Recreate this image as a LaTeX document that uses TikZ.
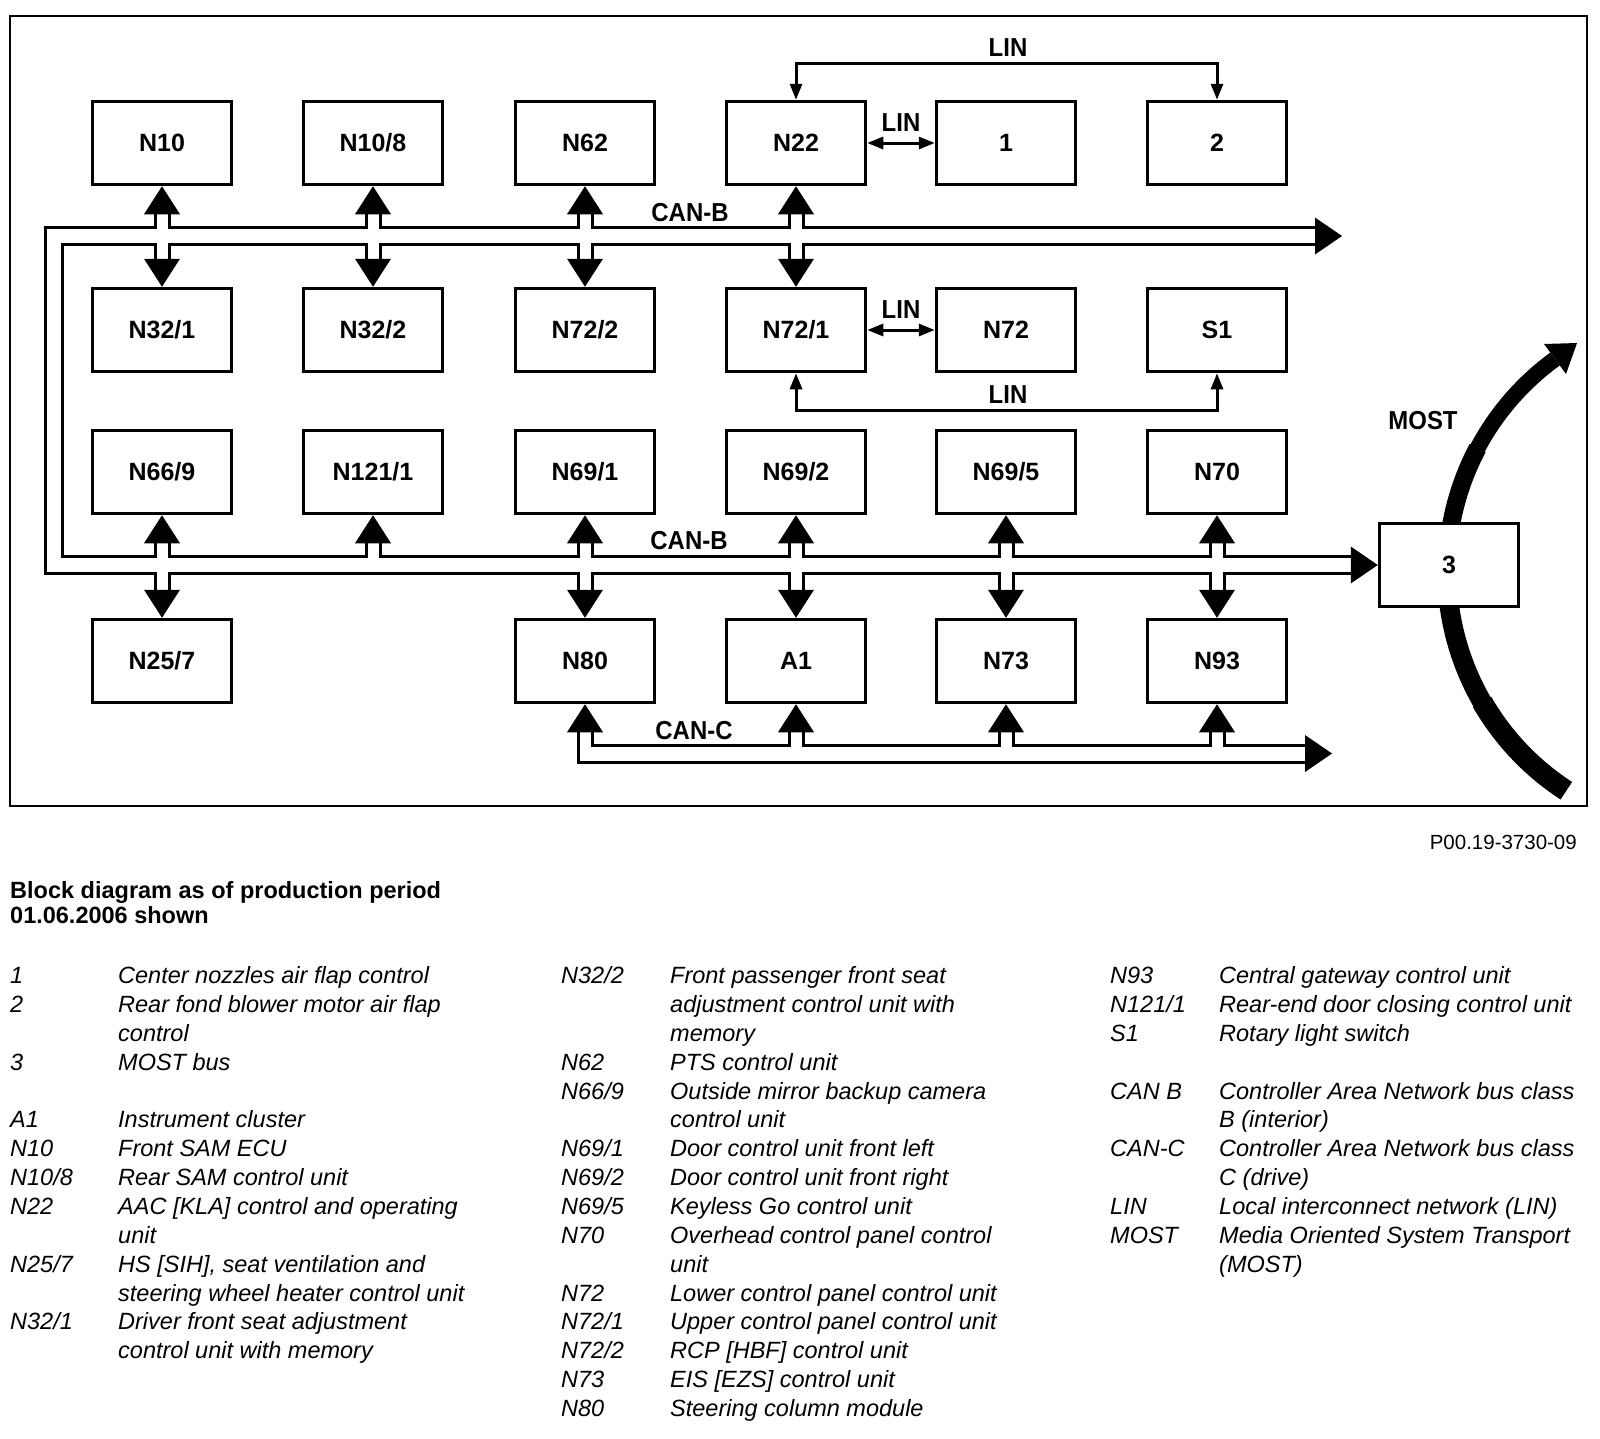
\documentclass[tikz,border=0pt]{standalone}
\usepackage{fontspec}
\setmainfont{Liberation Sans}
\newfontfamily\diafont[FakeStretch=0.92]{Liberation Sans}
\usetikzlibrary{arrows.meta,calc}
\begin{document}
\begin{tikzpicture}[x=1pt,y=-1pt,
  box/.style={draw,line width=3.5pt,fill=white,minimum width=139pt,minimum height=83pt,inner sep=0pt,font=\bfseries\fontsize{25}{29}\selectfont},
  lbl/.style={inner sep=0pt,font=\diafont\bfseries\fontsize{26}{30}\selectfont},
  lin/.style={line width=3pt,{Triangle[length=16pt,width=12pt]}-{Triangle[length=16pt,width=12pt]}},
  busB/.style={line width=20pt},
  busW/.style={line width=14pt,white},
  stemB/.style={line width=17pt},
  stemW/.style={line width=11pt,white},
  uptip/.pic={\fill (-18,28) -- (18,28) -- (0,0) -- cycle;},
  dntip/.pic={\fill (-18,-28) -- (18,-28) -- (0,0) -- cycle;},
  rttip/.pic={\fill (-27,-18.5) -- (-27,18.5) -- (0,0) -- cycle;},
  leg/.style={anchor=north west,inner sep=0pt,font=\itshape\fontsize{23.5}{28.85}\selectfont},
]
\useasboundingbox (0,0) rectangle (1600,1438);

% MOST arc (slightly tapered towards the arrow head)
\draw[line width=21pt] (1709,571) ++(123:262) arc[start angle=123,end angle=150,radius=262];
\draw[line width=19.5pt] (1709,571) ++(149:262) arc[start angle=149,end angle=180,radius=262];
\draw[line width=18pt] (1709,571) ++(179:262) arc[start angle=179,end angle=208,radius=262];
\draw[line width=16pt] (1709,571) ++(207:262) arc[start angle=207,end angle=234,radius=262];
\fill (1544,344) -- (1577,343) -- (1566,374) -- cycle;

\draw[line width=2pt] (10,16) rectangle (1587,806);

% boxes
\node[box] (n10)  at (162,143) {N10};
\node[box] (n108) at (373,143) {N10/8};
\node[box] (n62)  at (585,143) {N62};
\node[box] (n22)  at (796,143) {N22};
\node[box] (b1)   at (1006,143) {1};
\node[box] (b2)   at (1217,143) {2};
\node[box] (n321) at (162,330) {N32/1};
\node[box] (n322) at (373,330) {N32/2};
\node[box] (n722) at (585,330) {N72/2};
\node[box] (n721) at (796,330) {N72/1};
\node[box] (n72)  at (1006,330) {N72};
\node[box] (s1)   at (1217,330) {S1};
\node[box] (n669) at (162,472) {N66/9};
\node[box] (n1211) at (373,472) {N121/1};
\node[box] (n691) at (585,472) {N69/1};
\node[box] (n692) at (796,472) {N69/2};
\node[box] (n695) at (1006,472) {N69/5};
\node[box] (n70)  at (1217,472) {N70};
\node[box] (n257) at (162,661) {N25/7};
\node[box] (n80)  at (585,661) {N80};
\node[box] (a1)   at (796,661) {A1};
\node[box] (n73)  at (1006,661) {N73};
\node[box] (n93)  at (1217,661) {N93};
\node[box] (box3) at (1449,565) {3};

% helper coordinates
\coordinate (yUB) at (0,236);
\coordinate (yLB) at (0,565);
\coordinate (yCC) at (0,753.5);
\coordinate (yLt) at (0,63);
\coordinate (yLb) at (0,410);
\coordinate (xL) at (53.5,0);
\coordinate (endUB) at (1316,236);
\coordinate (endCC) at (1306,753.5);
\coordinate (endLB) at ($(box3.west)+(-27,0)$);

% black layer
\draw[busB] (endUB) -- (xL |- yUB) -- (xL |- yLB) -- (endLB);
\draw[busB] ($(n80.south |- yCC)+(-8.5,0)$) -- (endCC);
\foreach \a/\b in {n10/n321,n108/n322,n62/n722,n22/n721,n669/n257,n691/n80,n692/a1,n695/n73,n70/n93}
  \draw[stemB] ($(\a.south)+(0,28)$) -- ($(\b.north)+(0,-28)$);
\draw[stemB] ($(n1211.south)+(0,28)$) -- (n1211.south |- yLB);
\foreach \a in {a1,n73,n93}
  \draw[stemB] ($(\a.south)+(0,28)$) -- (\a.south |- yCC);
\draw[stemB] ($(n80.south)+(0,28)$) -- ($(n80.south |- yCC)+(0,10)$);

% white layer
\draw[busW] (endUB) -- (xL |- yUB) -- (xL |- yLB) -- (endLB);
\draw[busW] ($(n80.south |- yCC)+(-5.5,0)$) -- (endCC);
\foreach \a/\b in {n10/n321,n108/n322,n62/n722,n22/n721,n669/n257,n691/n80,n692/a1,n695/n73,n70/n93}
  \draw[stemW] ($(\a.south)+(0,28)$) -- ($(\b.north)+(0,-28)$);
\draw[stemW] ($(n1211.south)+(0,28)$) -- (n1211.south |- yLB);
\foreach \a in {a1,n73,n93}
  \draw[stemW] ($(\a.south)+(0,28)$) -- (\a.south |- yCC);
\draw[stemW] ($(n80.south)+(0,28)$) -- ($(n80.south |- yCC)+(0,7)$);

% arrowheads
\foreach \a in {n10,n108,n62,n22,n669,n1211,n691,n692,n695,n70,n80,a1,n73,n93}
  \pic at (\a.south) {uptip};
\foreach \b in {n321,n322,n722,n721,n257,n80,a1,n73,n93}
  \pic at (\b.north) {dntip};
\pic at ($(endUB)+(26,0)$) {rttip};
\pic at (box3.west) {rttip};
\pic at ($(endCC)+(26,0)$) {rttip};

% LIN connectors
\draw[lin] (n22.north) -- (n22.north |- yLt) -| (b2.north);
\draw[lin] (n22.east) -- (b1.west);
\draw[lin] (n721.east) -- (n72.west);
\draw[lin] (n721.south) -- (n721.south |- yLb) -| (s1.south);

% labels
\node[lbl] (tLIN1) at (1008,48) {LIN};
\node[lbl] (tLIN2) at (901,123) {LIN};
\node[lbl] (tLIN3) at (901,310) {LIN};
\node[lbl] (tLIN4) at (1008,395) {LIN};
\node[lbl] (tCB1) at (690,213) {CAN-B};
\node[lbl] (tCB2) at (689,541) {CAN-B};
\node[lbl] (tCC) at (694,731) {CAN-C};
\node[lbl] (tMOST) at (1423,421) {MOST};

% footer and legend
\node[anchor=base east,inner sep=0pt,font=\fontsize{20.5}{24}\selectfont] (ref) at (1577,849) {P00.19-3730-09};
\node[anchor=base west,inner sep=0pt,font=\bfseries\fontsize{23.5}{26}\selectfont] (title1) at (10,898) {Block diagram as of production period};
\node[anchor=base west,inner sep=0pt,font=\bfseries\fontsize{23.5}{26}\selectfont] (title2) at (10,923) {01.06.2006 shown};

\node[leg] (legA) at (10,963.3) {\begin{tabular}{@{}p{108pt}@{}l@{}}
1&Center nozzles air flap control\\
2&Rear fond blower motor air flap\\
&control\\
3&MOST bus\\
&\\
A1&Instrument cluster\\
N10&Front SAM ECU\\
N10/8&Rear SAM control unit\\
N22&AAC [KLA] control and operating\\
&unit\\
N25/7&HS [SIH], seat ventilation and\\
&steering wheel heater control unit\\
N32/1&Driver front seat adjustment\\
&control unit with memory
\end{tabular}};

\node[leg] (legB) at (561,963.3) {\begin{tabular}{@{}p{109pt}@{}l@{}}
N32/2&Front passenger front seat\\
&adjustment control unit with\\
&memory\\
N62&PTS control unit\\
N66/9&Outside mirror backup camera\\
&control unit\\
N69/1&Door control unit front left\\
N69/2&Door control unit front right\\
N69/5&Keyless Go control unit\\
N70&Overhead control panel control\\
&unit\\
N72&Lower control panel control unit\\
N72/1&Upper control panel control unit\\
N72/2&RCP [HBF] control unit\\
N73&EIS [EZS] control unit\\
N80&Steering column module
\end{tabular}};

\node[leg] (legC) at (1110,963.3) {\begin{tabular}{@{}p{109pt}@{}l@{}}
N93&Central gateway control unit\\
N121/1&Rear-end door closing control unit\\
S1&Rotary light switch\\
&\\
CAN B&Controller Area Network bus class\\
&B (interior)\\
CAN-C&Controller Area Network bus class\\
&C (drive)\\
LIN&Local interconnect network (LIN)\\
MOST&Media Oriented System Transport\\
&(MOST)
\end{tabular}};
\end{tikzpicture}
\end{document}
